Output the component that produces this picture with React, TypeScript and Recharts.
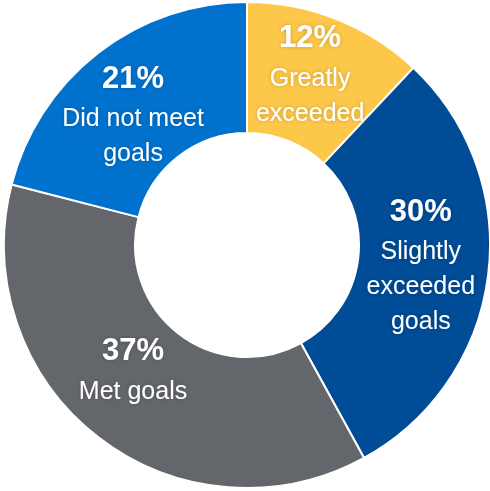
import { PieChart, Pie, Cell } from "recharts"

const categories = ["Greatly exceeded", "Slightly exceeded goals", "Met goals", "Did not meet goals"]
const shares = [12, 30, 37, 21]
const labelLines = [["Greatly", "exceeded"], ["Slightly", "exceeded", "goals"], ["Met goals"], ["Did not meet", "goals"]]
const colors = ["#FDC84A", "#004C97", "#63666A", "#0072CE"]
// label distance from centre, per slice (layout only)
const labelRadius = [182, 175, 169, 173]
const labelShift = [1.3, 0.6, -4.6, 3.4]

const data = categories.map((name, i) => ({ name, value: shares[i] }))

const RAD = Math.PI / 180
const FONT = "'Liberation Sans', Arial, sans-serif"

function SliceLabel(props: any) {
  const { cx, cy, midAngle, index } = props
  const r = labelRadius[index]
  const a = midAngle + labelShift[index]
  const x = cx + r * Math.cos(-a * RAD)
  const y = cy + r * Math.sin(-a * RAD)
  const lines = labelLines[index]
  const height = 40 + 35 * (lines.length - 1)
  const top = y - height / 2
  return (
    <g filter="url(#glow)">
      <text x={x} y={top} textAnchor="middle" dominantBaseline="central"
        fill="#fff" fontFamily={FONT} fontSize={31} fontWeight="bold">
        {shares[index]}%
      </text>
      {lines.map((ln, k) => (
        <text key={k} x={x} y={top + 40 + k * 35} textAnchor="middle" dominantBaseline="central"
          fill="#fff" fontFamily={FONT} fontSize={25}>
          {ln}
        </text>
      ))}
    </g>
  )
}

export default function App() {
  return (
    <div style={{ position: "absolute", left: 0, top: 0, width: 490, height: 491, background: "#fff" }}>
      <PieChart width={490} height={491} margin={{ top: 0, right: 0, bottom: 0, left: 0 }}>
        <defs>
          <filter id="glow" x="-20%" y="-20%" width="140%" height="140%">
            <feGaussianBlur in="SourceAlpha" stdDeviation="2" result="b" />
            <feFlood floodColor="#000" floodOpacity="0.22" />
            <feComposite in2="b" operator="in" result="s" />
            <feMerge>
              <feMergeNode in="s" />
              <feMergeNode in="SourceGraphic" />
            </feMerge>
          </filter>
        </defs>
        <Pie
          data={data}
          dataKey="value"
          cx={247}
          cy={245}
          innerRadius={112}
          outerRadius={243}
          startAngle={90}
          endAngle={-270}
          stroke="#fff"
          strokeWidth={2}
          label={SliceLabel}
          labelLine={false}
          isAnimationActive={false}
        >
          {data.map((d, i) => <Cell key={d.name} fill={colors[i]} />)}
        </Pie>
      </PieChart>
    </div>
  )
}
